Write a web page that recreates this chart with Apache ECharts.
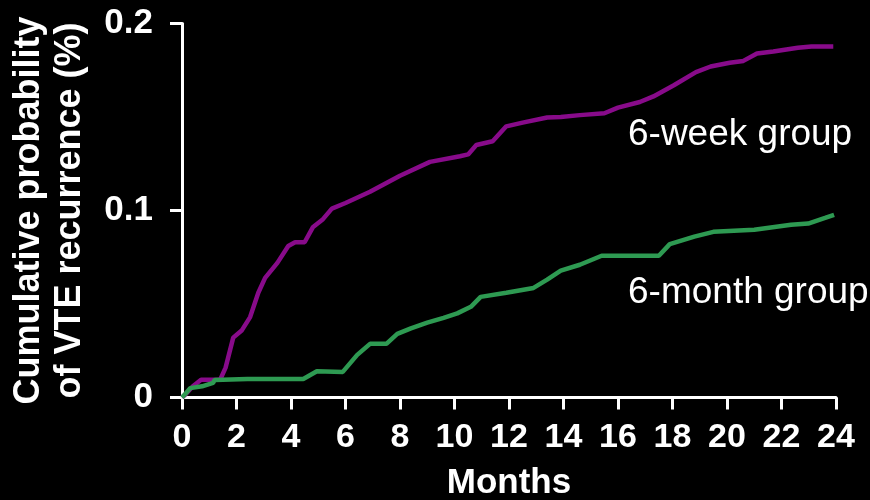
<!DOCTYPE html>
<html>
<head>
<meta charset="utf-8">
<script src="https://cdn.jsdelivr.net/npm/echarts@6/dist/echarts.min.js"></script>
<style>html,body{margin:0;padding:0;background:#000;}#c{width:870px;height:500px;}</style>
</head>
<body>
<div id="c"></div>
<script>
// ---- data ----
var xTicks = [0, 2, 4, 6, 8, 10, 12, 14, 16, 18, 20, 22, 24];
var yTicks = [0, 0.1, 0.2];
var seriesNames = ['6-week group', '6-month group'];
var weekMonths = [0, 0.15, 0.4, 0.7, 1.4, 1.6, 1.88, 2.2, 2.5, 2.8, 3.05, 3.5, 3.9, 4.15, 4.5, 4.8, 5.15, 5.5, 6.0, 6.9, 8.0, 9.1, 10.2, 10.5, 10.8, 11.4, 11.9, 12.5, 13.4, 13.9, 14.6, 15.5, 16.0, 16.8, 17.3, 18.05, 18.86, 19.4, 20.1, 20.6, 21.1, 21.7, 22.6, 23.1, 23.9];
var weekValues = [0, 0.002, 0.006, 0.0095, 0.0095, 0.016, 0.032, 0.036, 0.043, 0.056, 0.064, 0.072, 0.081, 0.083, 0.083, 0.091, 0.095, 0.101, 0.104, 0.110, 0.1186, 0.126, 0.129, 0.130, 0.135, 0.137, 0.145, 0.147, 0.1497, 0.150, 0.151, 0.152, 0.155, 0.158, 0.161, 0.167, 0.174, 0.177, 0.179, 0.180, 0.184, 0.185, 0.187, 0.1877, 0.1877];
var monthMonths = [0, 0.15, 0.3, 0.74, 1.14, 1.2, 2.4, 4.45, 4.95, 5.9, 6.43, 6.9, 7.5, 7.9, 8.4, 9.0, 9.6, 10.1, 10.6, 10.96, 11.9, 12.9, 13.4, 13.9, 14.6, 15.4, 17.5, 17.9, 18.8, 19.5, 21.0, 22.35, 22.98, 23.6, 23.93];
var monthValues = [0, 0.0024, 0.005, 0.006, 0.0078, 0.0094, 0.0099, 0.0099, 0.014, 0.0137, 0.0228, 0.0287, 0.0287, 0.034, 0.037, 0.040, 0.0426, 0.045, 0.0485, 0.0538, 0.056, 0.0586, 0.063, 0.0678, 0.071, 0.0758, 0.0758, 0.082, 0.086, 0.0886, 0.0897, 0.0924, 0.093, 0.096, 0.0977];

function pairs(xs, ys) { return xs.map(function (x, i) { return [x, ys[i]]; }); }

var FONT = '"Liberation Sans", Arial, Helvetica, sans-serif';
var chart = echarts.init(document.getElementById('c'));
chart.setOption({
  backgroundColor: '#000000',
  animation: false,
  grid: { left: 182, right: 34, top: 23.5, bottom: 102.5, containLabel: false, outerBoundsMode: 'none' },
  xAxis: {
    type: 'value', min: xTicks[0], max: xTicks[xTicks.length - 1], interval: 2,
    name: 'Months', nameLocation: 'middle', nameGap: 68,
    nameTextStyle: { color: '#fff', fontSize: 35, fontWeight: 'bold', fontFamily: FONT },
    axisLine: { show: true, lineStyle: { color: '#fff', width: 3 } },
    axisTick: { show: true, inside: false, length: 12, lineStyle: { color: '#fff', width: 3 } },
    axisLabel: { color: '#fff', fontSize: 34, fontWeight: 'bold', fontFamily: FONT, margin: 23 },
    splitLine: { show: false }
  },
  yAxis: {
    type: 'value', min: yTicks[0], max: yTicks[yTicks.length - 1], interval: 0.1,
    name: 'Cumulative probability\nof VTE recurrence (%)', nameLocation: 'middle', nameGap: 91, nameRotate: 90,
    nameTextStyle: { color: '#fff', fontSize: 36, fontWeight: 'bold', fontFamily: FONT, lineHeight: 41 },
    axisLine: { show: true, lineStyle: { color: '#fff', width: 3 } },
    axisTick: { show: true, length: 12, lineStyle: { color: '#fff', width: 3 } },
    axisLabel: { color: '#fff', fontSize: 35, fontWeight: 'bold', fontFamily: FONT, margin: 29 },
    splitLine: { show: false }
  },
  graphic: [
    { type: 'text', left: 628, top: 116, style: { text: seriesNames[0], fill: '#fff', fontSize: 37, fontFamily: FONT } },
    { type: 'text', left: 628, top: 274, style: { text: seriesNames[1], fill: '#fff', fontSize: 37, fontFamily: FONT } }
  ],
  series: [
    { name: seriesNames[0], type: 'line', data: pairs(weekMonths, weekValues), showSymbol: false,
      lineStyle: { color: '#880b8a', width: 4.5 }, itemStyle: { color: '#880b8a' } },
    { name: seriesNames[1], type: 'line', data: pairs(monthMonths, monthValues), showSymbol: false,
      lineStyle: { color: '#2e9a52', width: 4.5 }, itemStyle: { color: '#2e9a52' } }
  ]
});
</script>
</body>
</html>
